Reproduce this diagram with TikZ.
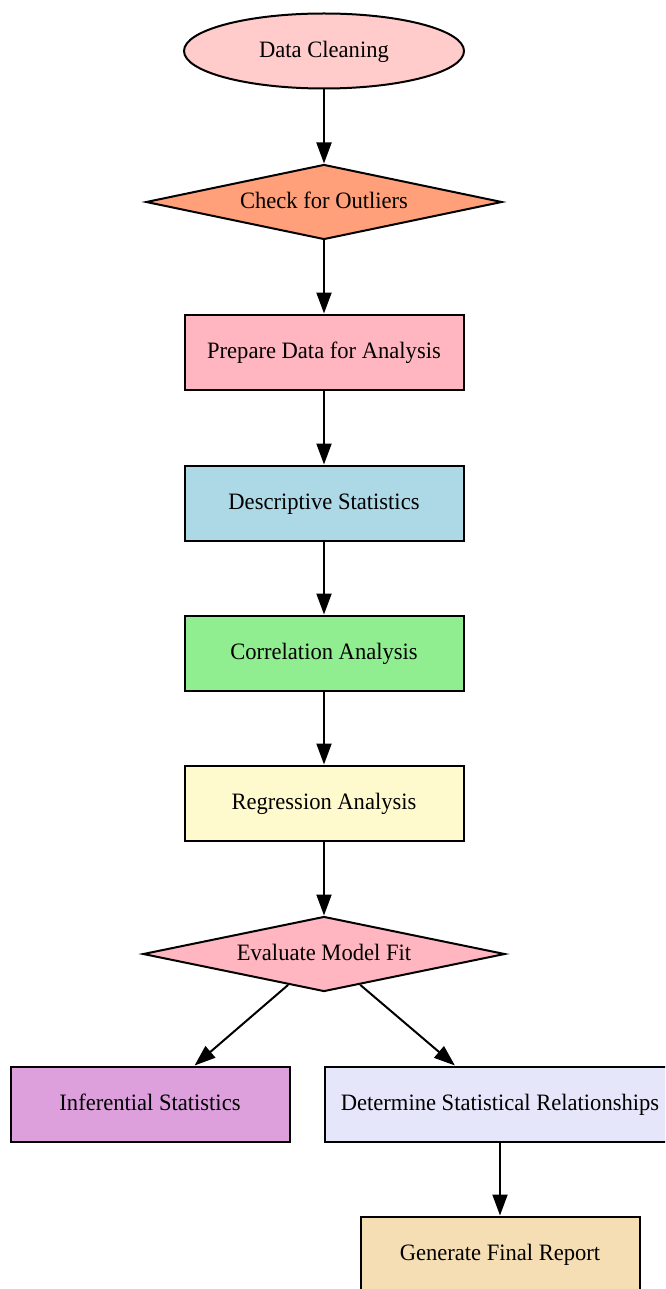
\documentclass[tikz,border=0pt]{standalone}
\usepackage{fontspec}
\setmainfont{Liberation Serif}[FakeStretch=0.96]
\usepackage{tikz}
\usetikzlibrary{shapes.geometric,arrows.meta,positioning}
\definecolor{clnred}{HTML}{FFCCCB}
\definecolor{outsalmon}{HTML}{FFA07A}
\definecolor{prppink}{HTML}{FFB6C1}
\definecolor{dscblue}{HTML}{ADD8E6}
\definecolor{corgreen}{HTML}{90EE90}
\definecolor{regyellow}{HTML}{FFFACD}
\definecolor{infplum}{HTML}{DDA0DD}
\definecolor{detlav}{HTML}{E6E6FA}
\definecolor{repwheat}{HTML}{F5DEB3}

\begin{document}
\begin{tikzpicture}[x=1pt,y=-1pt,
  lbl/.style={font=\fontsize{23.5}{28}\selectfont, text height=17pt, text depth=4.2pt},
  box/.style={lbl, draw=black, line width=2pt, rectangle,
              minimum width=279pt, minimum height=75pt, inner sep=0pt},
  dec/.style={lbl, draw=black, line width=2pt, diamond, aspect=4.7,
              minimum width=356pt, minimum height=75pt, inner sep=0pt},
  arr/.style={-{Triangle[length=21pt,width=15pt]}, draw=black, line width=2pt}
]
  \useasboundingbox (0,0) rectangle (665,1289);
  \clip (0,0) rectangle (665,1289);

  \node[lbl, draw=black, line width=2pt, ellipse, fill=clnred,
        minimum width=280pt, minimum height=75pt, inner sep=0pt]
    (clean) at (324,51) {Data Cleaning};
  \node[dec, fill=outsalmon] (outl) at (324,202) {Check for Outliers};
  \node[box, fill=prppink]   (prep) at (324,352) {Prepare Data for Analysis};
  \node[box, fill=dscblue]   (desc) at (324,503) {Descriptive Statistics};
  \node[box, fill=corgreen]  (corr) at (324,653) {Correlation Analysis};
  \node[box, fill=regyellow] (regr) at (324,803) {Regression Analysis};
  \node[dec, fill=prppink, minimum width=362pt] (eval) at (324,954) {Evaluate Model Fit};
  \node[box, fill=infplum]   (infer) at (150,1104) {Inferential Statistics};
  \node[box, fill=detlav, minimum width=350pt] (rel) at (500,1104)
    {Determine Statistical Relationships};
  \node[box, fill=repwheat]  (rep) at (500,1254) {Generate Final Report};

  \draw[arr] (clean) -- (outl);
  \draw[arr] (outl) -- (prep);
  \draw[arr] (prep) -- (desc);
  \draw[arr] (desc) -- (corr);
  \draw[arr] (corr) -- (regr);
  \draw[arr] (regr) -- (eval);
  \draw[arr] (eval) -- (infer);
  \draw[arr] (eval) -- (rel);
  \draw[arr] (rel) -- (rep);
\end{tikzpicture}
\end{document}
